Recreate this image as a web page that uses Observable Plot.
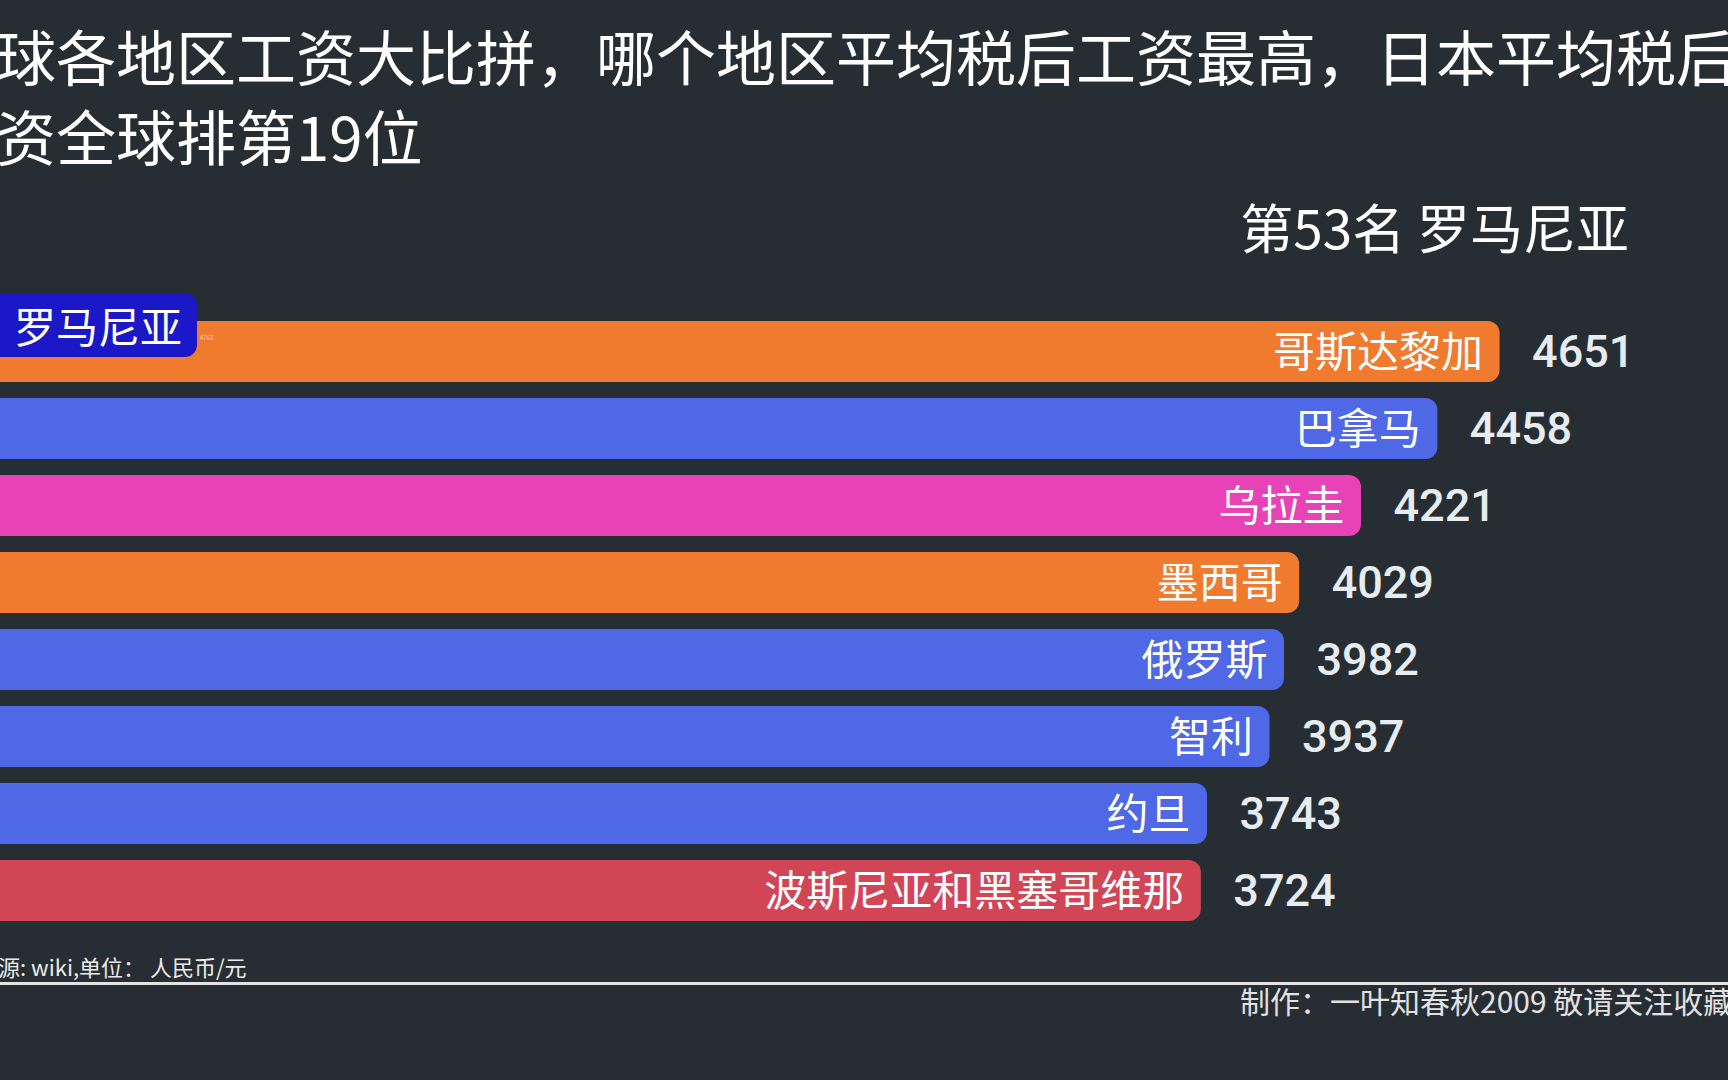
<!DOCTYPE html>
<html>
<head>
<meta charset="utf-8">
<script src="https://cdn.jsdelivr.net/npm/d3@7"></script>
<script src="https://cdn.jsdelivr.net/npm/@observablehq/plot@0.6"></script>
<style>
  html, body { margin: 0; padding: 0; background: #262e34; overflow: hidden; }
  #page { position: relative; width: 1728px; height: 1080px; overflow: hidden; background: #262e34;
          font-family: "Noto Sans CJK SC", "Noto Sans", sans-serif; color: #fff; }
  .abs { position: absolute; white-space: nowrap; }
  #chart { position: absolute; left: 0; top: 0; }
</style>
</head>
<body>
<div id="page">
  <div id="chart"></div>
  <div class="abs" id="t1" style="left:-64px; top:15px; font-size:60px; line-height:80px;"></div>
  <div class="abs" id="t2" style="left:-64px; top:95px; font-size:60px; line-height:80px;"></div>
  <div class="abs" id="rank" style="right:99px; top:193px; font-size:53px; line-height:66px;"></div>
  <div class="abs" id="mover" style="left:-12px; top:293px; width:209px; height:64px; background:#1b18c8; border-radius:12px;"></div>
  <div class="abs" id="moverName" style="left:14px; top:296px; font-size:42px; line-height:58px;"></div>
  <div class="abs" id="moverVal" style="left:200px; top:334px; font-size:6px; line-height:8px; color:#f3d7c3;"></div>
  <div class="abs" id="src" style="left:-24px; top:951px; font-size:22px; line-height:30px; color:#ececec;"></div>
  <div class="abs" style="left:0; top:982px; width:1728px; height:3px; background:#e4e4e4;"></div>
  <div class="abs" id="credit" style="left:1240px; top:980px; font-size:30px; line-height:40px; color:#e2e2e2;"></div>
</div>
<script>
// ---- data ----
const titleLines = ["全球各地区工资大比拼，哪个地区平均税后工资最高，日本平均税后", "工资全球排第19位"];
const rankLabel = "第53名 罗马尼亚";
const moverName = "罗马尼亚";
const moverValue = 4762;
const names = ["哥斯达黎加", "巴拿马", "乌拉圭", "墨西哥", "俄罗斯", "智利", "约旦", "波斯尼亚和黑塞哥维那"];
const values = [4651, 4458, 4221, 4029, 3982, 3937, 3743, 3724];
const barColors = ["#f07a2e", "#4e68e6", "#e843b6", "#f07a2e", "#4e68e6", "#4e68e6", "#4e68e6", "#d24557"];
const sourceText = "来源: wiki,单位：  人民币/元";
const creditText = "制作：一叶知春秋2009 敬请关注收藏";

// ---- text ----
document.getElementById("t1").textContent = titleLines[0];
document.getElementById("t2").textContent = titleLines[1];
document.getElementById("rank").textContent = rankLabel;
document.getElementById("moverName").textContent = moverName;
document.getElementById("moverVal").textContent = String(moverValue);
document.getElementById("src").textContent = sourceText;
document.getElementById("credit").textContent = creditText;

// ---- chart ----
const data = names.map((n, i) => ({name: n, value: values[i]}));
const chart = Plot.plot({
  width: 1728,
  height: 940,
  marginTop: 311,
  marginBottom: 10,
  marginLeft: 1,
  marginRight: 116,
  style: {background: "transparent"},
  x: {domain: [0, 5000], axis: null},
  y: {domain: names, axis: null, paddingInner: 0.21, paddingOuter: 0.105},
  color: {domain: names, range: barColors},
  marks: [
    Plot.barX(data, {x1: -40, x2: "value", y: "name", fill: "name", rx: 12}),
    Plot.text(data, {x: "value", y: "name", text: "name", textAnchor: "end", dx: -17, dy: 2,
      fill: "#ffffff", fontSize: 42, fontFamily: "Noto Sans CJK SC"}),
    Plot.text(data, {x: "value", y: "name", text: d => String(d.value), textAnchor: "start", dx: 32, dy: 1,
      fill: "#e6ecef", fontSize: 45, fontWeight: 500, fontFamily: "Roboto"})
  ]
});
document.getElementById("chart").appendChild(chart);
</script>
</body>
</html>
